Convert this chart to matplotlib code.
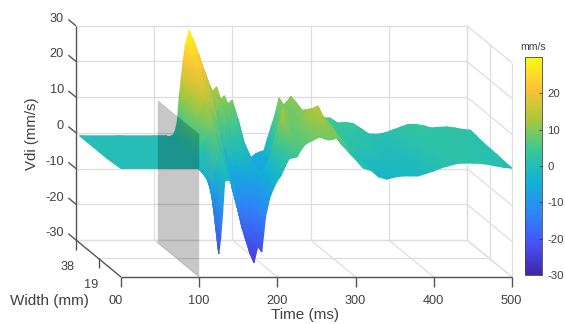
import matplotlib
matplotlib.use("Agg")
import numpy as np
import matplotlib.pyplot as plt
from matplotlib.colors import LinearSegmentedColormap
from matplotlib.patches import Polygon

plt.rcParams['font.family'] = ['Liberation Sans', 'DejaVu Sans']
plt.rcParams['axes.unicode_minus'] = False

# ---------- data ----------
time_ms = [0, 50, 95, 100, 105, 110, 115, 117.5, 120, 122.5, 125, 127.5, 130, 132.5, 135, 140, 145, 150, 155, 160,
           165, 170, 175, 180, 185, 190, 195, 200, 205, 210, 215, 220, 225, 230, 235, 240, 245, 250, 255, 260,
           265, 270, 275, 280, 285, 290, 295, 300, 310, 320, 330, 340, 350, 360, 370, 380, 390, 400, 410, 420,
           430, 440, 450, 460, 470, 480, 490, 500]
width_rows_mm = [35, 30, 24, 18, 12, 6, 0]
vdi_w35 = [0, 0, 0, 0, 0, 0, -0.3, 0, 0.3, 1.5, 4, 11, 16, 21, 25, 29.6, 27, 23, 17.5, 18,
           14.8, 12.5, 13.7, 10, 11.2, 9, 10, 0, -4, -5, -5.8, -6, -5, -4.6, -4.8, -1, 2.5, 6, 10.6, 8.6,
           9.5, 11.1, 9.8, 8, 6.8, 6, 5.6, 5.2, 5, 5, 3.6, 3.8, 3.4, 2, 0.5, 0.4, 0.8, 1.6, 2.4, 3.2,
           3.2, 2.8, 2.2, 2.4, 2.5, 2.2, 1.8, 1.6]
vdi_w30 = [0, 0, 0, 0, 0, 0.1, 0.2, 0.8, 2, 4, 7, 12, 16, 20, 23.5, 26, 24, 20.5, 15.5, 14.5,
           11, 10, 10, 7, 7.5, 6, 6, -1, -5, -6.5, -7.3, -6.5, -5, -3.2, -1.5, 2.5, 6.5, 8, 9, 8.2,
           9.7, 10, 9, 7.5, 6.4, 6.5, 6.8, 6, 4.5, 4, 2.8, 2.6, 2.3, 1.2, 0.1, 0, 0.5, 1.2, 2, 2.8,
           2.9, 2.6, 2.1, 2.2, 2.2, 2, 1.5, 1.3]
vdi_w24 = [0, 0, 0, 0, 0, 0.2, 1, 3, 6, 9, 12, 15, 18, 20, 22, 21, 19, 17, 13, 10,
           6, 6, 5, 3, 3, 2, 0, -2, -6, -8, -9, -7, -5, -1, 3, 7, 11, 9, 7, 8,
           10, 9, 8, 7, 6, 7, 8, 7, 4, 3, 2, 1.5, 1.2, 0.5, -0.3, -0.3, 0.2, 0.8, 1.5, 2.4,
           2.5, 2.3, 2, 2, 2, 1.7, 1.3, 1]
vdi_w18 = [0, 0, 0, 0, 0, 0.1, 0.3, 1.8, 4, 6, 8.5, 10.5, 12.5, 14, 15, 14, 11, 9, 5, 1,
           -4, -4, -4, -5, -5, -5, -5, -4.5, -5, -5, -3.5, 0.5, 5, 5, 5.5, 7, 9.5, 9, 9, 10,
           12, 12, 10, 9, 7.5, 7.2, 6.8, 5.5, 3, 1.8, 0.5, 0.3, 0.3, -0.2, -0.7, -0.7, -0.2, 0.5, 1.2, 2,
           2.2, 2.2, 2, 1.9, 1.8, 1.5, 1.1, 0.9]
vdi_w12 = [0, 0, 0, 0, 0, 0, -0.5, 0.5, 2, 3.5, 5, 6, 7, 7.5, 8, 7, 3, 1, -3, -8,
           -12, -14, -13, -13, -12, -12, -10, -7, -4, -2, 2, 8, 14, 10, 7.5, 7, 8, 9, 10.5, 11.5,
           13.5, 14.6, 12, 11, 9, 7.5, 5.5, 4, 2, 0.5, -1, -1, -0.5, -0.8, -1, -1, -0.5, 0.2, 1, 1.6,
           2, 2.1, 2, 1.9, 1.7, 1.4, 1, 0.8]
vdi_w6 = [0.2, 0.2, 0.2, 0.2, -0.3, -1, -2.5, -3, -4, -5, -8, -6, -2, 1, 2.5, 2, -1, -4.5, -9.5, -14,
          -18, -20, -17.5, -18, -13, -10, -7.5, -5, -2.8, -0.5, 2.5, 5.5, 9, 7.8, 7.2, 7.3, 8, 8.9, 9.8, 10,
          11, 11.5, 10.4, 10, 8.3, 6.8, 5, 3.5, 1.2, 0.2, -1.5, -1.8, -1.2, -1.2, -1.3, -1.3, -0.7, 0, 0.8, 1.4,
          1.9, 2, 2, 1.8, 1.6, 1.2, 0.8, 0.6]
vdi_w0 = [0.4, 0.4, 0.4, 0.4, -1, -2.5, -4.5, -7, -10.4, -16, -23.5, -19, -12, -3.5, -2.8, -3.2, -5, -10.5, -16.5, -20,
          -23.5, -26, -21.5, -23, -13, -8, -5.2, -3, -1.5, 1, 3.1, 3.4, 3.6, 5.5, 7, 7.7, 8.2, 8.8, 9.2, 8.7,
          8.4, 8.5, 8.8, 8.9, 7.5, 6, 4.5, 3, 0.5, -0.2, -2, -2.6, -2, -1.7, -1.7, -1.7, -1, -0.3, 0.6, 1.2,
          1.8, 1.9, 1.9, 1.8, 1.5, 1.1, 0.7, 0.5]
time_ticks = [100, 200, 300, 400, 500]
time_labels = ['100', '200', '300', '400', '500']
width_ticks = [0, 19, 38]
vdi_ticks = [-30, -20, -10, 0, 10, 20, 30]
cbar_ticks = [-30, -20, -10, 0, 10, 20]
plane_time = 100
plane_width = [0, 35]
plane_vdi = [-30, 10]
parula_colors = ['#3e26a8', '#4752f4', '#2d87f7', '#12b1d6', '#37c897', '#abc739', '#fec338', '#f9fb15']

# ---------- layout ----------
W, H = 565, 324
PX_PER_MS, PX_PER_UNIT = 0.782, 3.57
SHEAR_T = 1.184 / PX_PER_MS     # ms of leftward shift per mm of width
SHEAR_V = 0.974 / PX_PER_UNIT   # Vdi units of upward shift per mm of width
GRID = '#dedede'
AXC = '#555555'
TXT = '#404040'


def oblique(t, w, z):
    t, w, z = np.asarray(t, float), np.asarray(w, float), np.asarray(z, float)
    return t - SHEAR_T * w, z + SHEAR_V * w


fig = plt.figure(figsize=(W / 100, H / 100), dpi=100)
ax = fig.add_axes([0, 0, 1, 1])
ax.set_xlim((0 - 121) / PX_PER_MS, (W - 121) / PX_PER_MS)
ax.set_ylim((277 - H) / PX_PER_UNIT - 30, 277 / PX_PER_UNIT - 30)
ax.axis('off')


def line3(ts, ws, zs, **kw):
    u, v = oblique(ts, ws, zs)
    ax.plot(u, v, solid_capstyle='butt', **kw)


t0, t1 = 0, time_ticks[-1]
w0, w1 = width_ticks[0], width_ticks[-1]
z0, z1 = vdi_ticks[0], vdi_ticks[-1]
gl = dict(color=GRID, lw=0.9, zorder=1)
for z in vdi_ticks:
    line3([t0, t1], [w1, w1], [z, z], **gl)       # back wall
    line3([t1, t1], [w1, w0], [z, z], **gl)       # side wall
for t in time_ticks:
    line3([t, t], [w1, w1], [z0, z1], **gl)       # back wall
    line3([t, t], [w1, w0], [z0, z0], **gl)       # floor
for w in width_ticks:
    line3([t0, t1], [w, w], [z0, z0], **gl)       # floor
    line3([t1, t1], [w, w], [z0, z1], **gl)       # side wall

# surface: rows run back to front so nearer rows paint over farther ones
T, Wd = np.meshgrid(time_ms, width_rows_mm)
Z = np.array([vdi_w35, vdi_w30, vdi_w24, vdi_w18, vdi_w12, vdi_w6, vdi_w0], float)
U, V = oblique(T, Wd, Z)
parula = LinearSegmentedColormap.from_list('parula_like', parula_colors, N=256)
mesh = ax.pcolormesh(U, V, Z, shading='gouraud', cmap=parula, vmin=-30, vmax=30, zorder=2)

# translucent plane
corners = [(plane_width[0], plane_vdi[0]), (plane_width[1], plane_vdi[0]),
           (plane_width[1], plane_vdi[1]), (plane_width[0], plane_vdi[1])]
pu, pv = oblique([plane_time] * 4, [c[0] for c in corners], [c[1] for c in corners])
ax.add_patch(Polygon(np.column_stack([pu, pv]), closed=True, facecolor='black', alpha=0.22,
                     edgecolor='none', zorder=3))

# axis lines and ticks
al = dict(color=AXC, lw=1.0, zorder=4)
line3([t0, t0], [w1, w1], [z0, z1], **al)
line3([t0, t0], [w1, w0], [z0, z0], **al)
line3([t0, t1], [w0, w0], [z0, z0], **al)
for z in vdi_ticks:
    line3([t0, t0], [w1, w1 + 6.5], [z, z], **al)
for t in [0] + time_ticks:
    line3([t, t], [w0, w0], [z0, z0 - 2.8], **al)
for w in width_ticks[1:]:
    line3([t0, t0], [w, w], [z0, z0 - 2.8], **al)


def ptext(x, y, s, size=9.2, ha='center', rot=0):
    fig.text(x / W, 1 - y / H, s, fontsize=size, color=TXT, ha=ha, va='center', rotation=rot)


for z, y in zip(vdi_ticks, [233, 198, 162, 126, 90, 54, 19]):
    ptext(64, y, str(z), ha='right')
for lab, x in zip(['00'] + time_labels, [116, 199, 277, 355, 433, 511]):
    ptext(x, 301, lab)
ptext(68, 267, str(width_ticks[2]))
ptext(91, 285, str(width_ticks[1]))
ptext(32, 134, 'Vdi (mm/s)', size=10.8, rot=90)
ptext(49, 301, 'Width (mm)', size=11)
ptext(305, 315, 'Time (ms)', size=11)
ptext(533, 47, 'mm/s', size=7.6)

# colorbar
cax = fig.add_axes([525 / W, 1 - 275 / H, 17 / W, 218 / H])
cb = fig.colorbar(mesh, cax=cax, ticks=cbar_ticks)
cb.ax.tick_params(length=2, width=0.5, direction='in', labelsize=8.2, labelcolor=TXT, pad=4, color='#333333')
cb.outline.set_linewidth(0.6)
cb.outline.set_edgecolor('#444444')

fig.savefig('out.png', dpi=100)
